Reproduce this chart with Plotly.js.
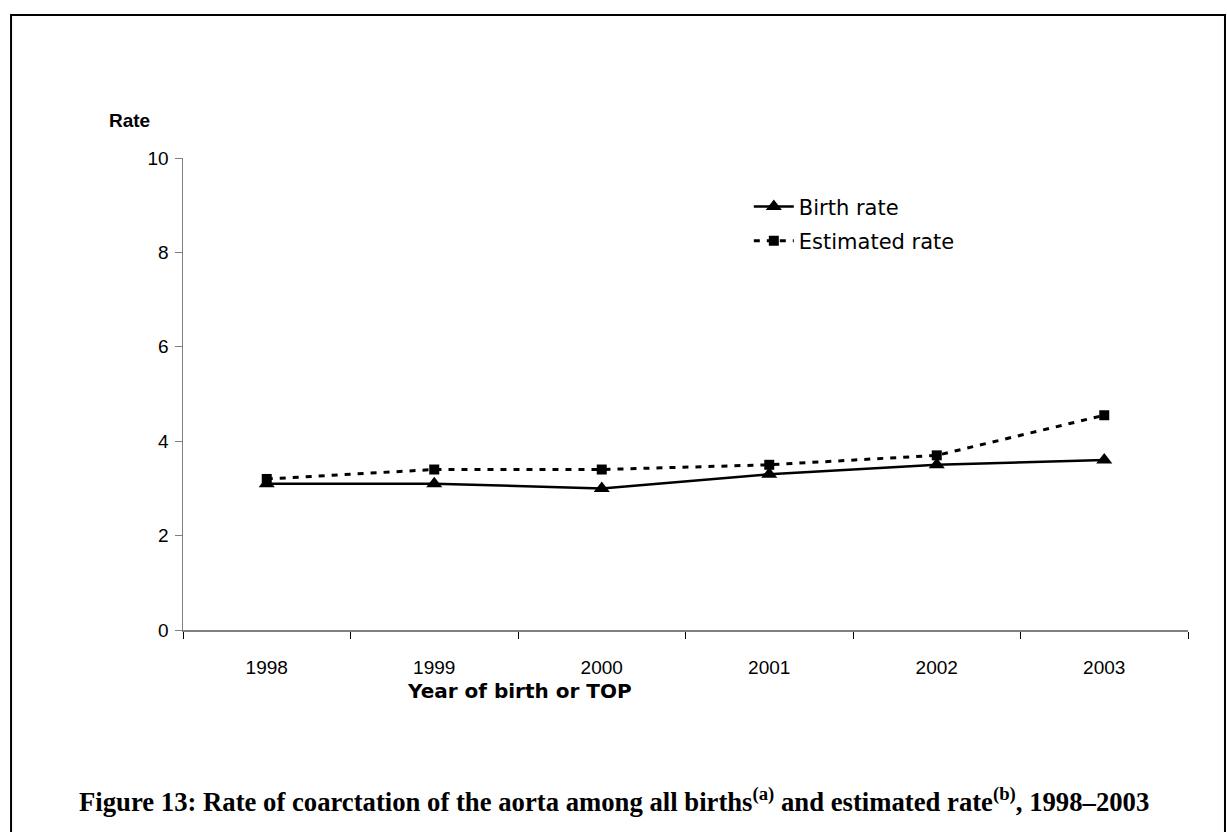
<!DOCTYPE html>
<html>
<head>
<meta charset="utf-8">
<script src="https://cdn.plot.ly/plotly-3.0.1.min.js"></script>
<style>html,body{margin:0;padding:0;background:#fff;}#chart{width:1227px;height:832px;}</style>
</head>
<body>
<div id="chart"></div>
<script>
const years = ["1998", "1999", "2000", "2001", "2002", "2003"];
const birthRate = [3.1, 3.1, 3.0, 3.3, 3.5, 3.6];
const estimatedRate = [3.2, 3.4, 3.4, 3.5, 3.7, 4.55];
const yTicks = [0, 2, 4, 6, 8, 10];

const traces = [
  {
    x: years, y: birthRate, name: "Birth rate", type: "scatter", mode: "lines+markers",
    line: {color: "#000", width: 2.5},
    marker: {symbol: "triangle-up", size: 14, color: "#000"},
    legendgroup: "a"
  },
  {
    x: years, y: estimatedRate, name: "Estimated rate", type: "scatter", mode: "lines+markers",
    line: {color: "#000", width: 3, dash: "6px,7px"},
    marker: {symbol: "square", size: 10, color: "#000"},
    legendgroup: "b"
  }
];

const fontA = "Liberation Sans, Arial, sans-serif";
const fontW = "DejaVu Sans, Liberation Sans, sans-serif";
const layout = {
  width: 1227, height: 832,
  margin: {l: 183, r: 39, t: 158, b: 202},
  paper_bgcolor: "#fff", plot_bgcolor: "#fff",
  showlegend: true,
  legend: {x: 0.563, y: 0.94, xanchor: "left", yanchor: "top", font: {family: fontW, size: 21, color: "#000"},
           traceorder: "grouped", tracegroupgap: 4, bgcolor: "rgba(0,0,0,0)", itemwidth: 40},
  xaxis: {
    type: "category", range: [-0.5, 5.5], tickson: "boundaries", ticks: "outside", ticklen: 7,
    tickcolor: "#000", showline: true, linecolor: "#808080", linewidth: 1.5, showgrid: false, zeroline: false,
    tickfont: {family: fontA, size: 19, color: "#000"}, ticklabelstandoff: 20, fixedrange: true
  },
  yaxis: {
    range: [0, 10], tickvals: yTicks, ticktext: yTicks.map(String), ticks: "outside", ticklen: 7,
    tickcolor: "#808080", showline: true, linecolor: "#808080", linewidth: 1.5, showgrid: false, zeroline: false,
    tickfont: {family: fontA, size: 19, color: "#000"}, ticklabelstandoff: 2, fixedrange: true
  },
  annotations: [
    {text: "<b>Rate</b>", xref: "paper", yref: "paper", x: -0.031, y: 1.08, xanchor: "right", yanchor: "middle",
     showarrow: false, font: {family: fontA, size: 19, color: "#000"}},
    {text: "<b>Year of birth or TOP</b>", xref: "paper", yref: "paper", x: 0.335, y: -0.129, xanchor: "center", yanchor: "middle",
     showarrow: false, font: {family: fontW, size: 20, color: "#000"}},
    {text: "<b>Figure 13: Rate of coarctation of the aorta among all births<sup>(a)</sup> and estimated rate<sup>(b)</sup>, 1998–2003</b>",
     xref: "paper", yref: "paper", x: 0.429, y: -0.36, xanchor: "center", yanchor: "middle",
     showarrow: false, font: {family: "Liberation Serif, serif", size: 26.7, color: "#000"}}
  ],
  shapes: [
    {type: "rect", xref: "paper", yref: "paper", x0: -0.1711, x1: 1.0368, y0: -0.5, y1: 1.3030,
     line: {color: "#000", width: 2}, fillcolor: "rgba(0,0,0,0)", layer: "below"}
  ]
};

Plotly.newPlot("chart", traces, layout, {displayModeBar: false, staticPlot: true});
</script>
</body>
</html>
